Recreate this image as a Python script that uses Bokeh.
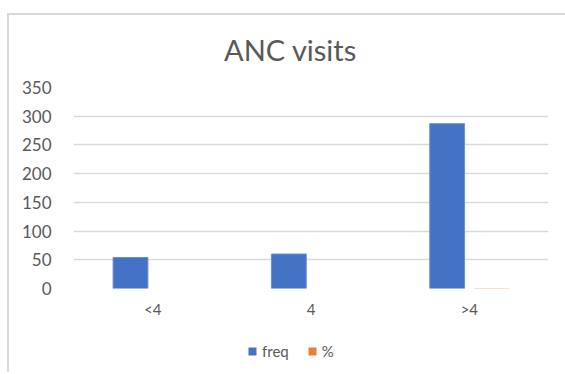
from bokeh.plotting import figure
from bokeh.layouts import column
from bokeh.models import FactorRange, Range1d, ColumnDataSource, Legend, LegendItem, Label, SingleIntervalTicker
from bokeh.transform import dodge
from bokeh.embed import file_html
from bokeh.resources import INLINE

categories = ["<4", "4", ">4"]
freq = [54, 60, 287]
pct = [0.135, 0.150, 0.716]
series = ["freq", "%"]
colors = ["#4472C4", "#ED7D31"]
title_text = "ANC visits"

FONT = "Lato"
GREY = "#595959"
BORDER = "2px solid #d9d9d9"


def strip(height, margin, styles):
    f = figure(width=558, height=height, x_range=Range1d(0, 1), y_range=Range1d(0, 1),
               x_axis_type=None, y_axis_type=None,
               output_backend="svg", toolbar_location=None, tools="",
               min_border_left=0, min_border_right=0, min_border_top=0, min_border_bottom=0)
    f.margin = margin
    f.styles = styles
    f.outline_line_color = None
    return f


# title strip
tf = strip(55, (13, 0, 0, 7), {"border-left": BORDER, "border-top": BORDER})
tf.add_layout(Label(x=217, y=21, x_units="screen", y_units="screen", text=title_text,
                    text_align="center", text_baseline="middle", text_font=FONT,
                    text_font_size="29px", text_color=GREY))

# main chart
src = ColumnDataSource(dict(cat=categories, freq=freq, pct=pct))
p = figure(width=558, height=260, x_range=FactorRange(*categories), y_range=Range1d(0, 350),
           output_backend="svg", toolbar_location=None, tools="",
           min_border_left=64, min_border_right=19, min_border_top=19, min_border_bottom=40)
p.margin = (0, 0, 0, 7)
p.styles = {"border-left": BORDER}
p.outline_line_color = None

p.vbar(x=dodge("cat", -0.14, range=p.x_range), top="freq", width=0.22, source=src,
       fill_color=colors[0], line_color="#6a8fd3", line_width=1)
p.vbar(x=dodge("cat", 0.14, range=p.x_range), top="pct", width=0.22, source=src,
       fill_color=colors[1], line_color=None)

p.yaxis.ticker = SingleIntervalTicker(interval=50)
for ax in (p.xaxis[0], p.yaxis[0]):
    ax.axis_line_color = None
    ax.major_tick_line_color = None
    ax.minor_tick_line_color = None
    ax.major_tick_out = 0
    ax.major_tick_in = 0
    ax.minor_tick_out = 0
    ax.major_label_text_font = FONT
    ax.major_label_text_font_size = "17px"
    ax.major_label_text_color = GREY
p.xaxis.major_label_text_font_size = "15px"
p.yaxis.major_label_standoff = 22
p.xaxis.major_label_standoff = 11

p.xgrid.grid_line_color = None
p.ygrid.grid_line_color = "#d9d9d9"
p.ygrid.grid_line_width = 1.5

# legend strip
lf = strip(44, (0, 0, 0, 7), {"border-left": BORDER})
items = []
for name, c in zip(series, colors):
    r = lf.vbar(x=[-5], top=[-5], bottom=[-6], width=0.1, fill_color=c, line_color=None)
    items.append(LegendItem(label=name, renderers=[r]))
legend = Legend(items=items, orientation="horizontal", location=(174, 12), border_line_color=None,
                background_fill_alpha=0, label_text_font=FONT, label_text_font_size="15px",
                label_text_color=GREY, glyph_width=10, glyph_height=10, spacing=18,
                label_standoff=5, margin=0, padding=0)
lf.add_layout(legend, "center")

layout = column(tf, p, lf, spacing=0)
open("out.html", "w").write(file_html(layout, INLINE))
